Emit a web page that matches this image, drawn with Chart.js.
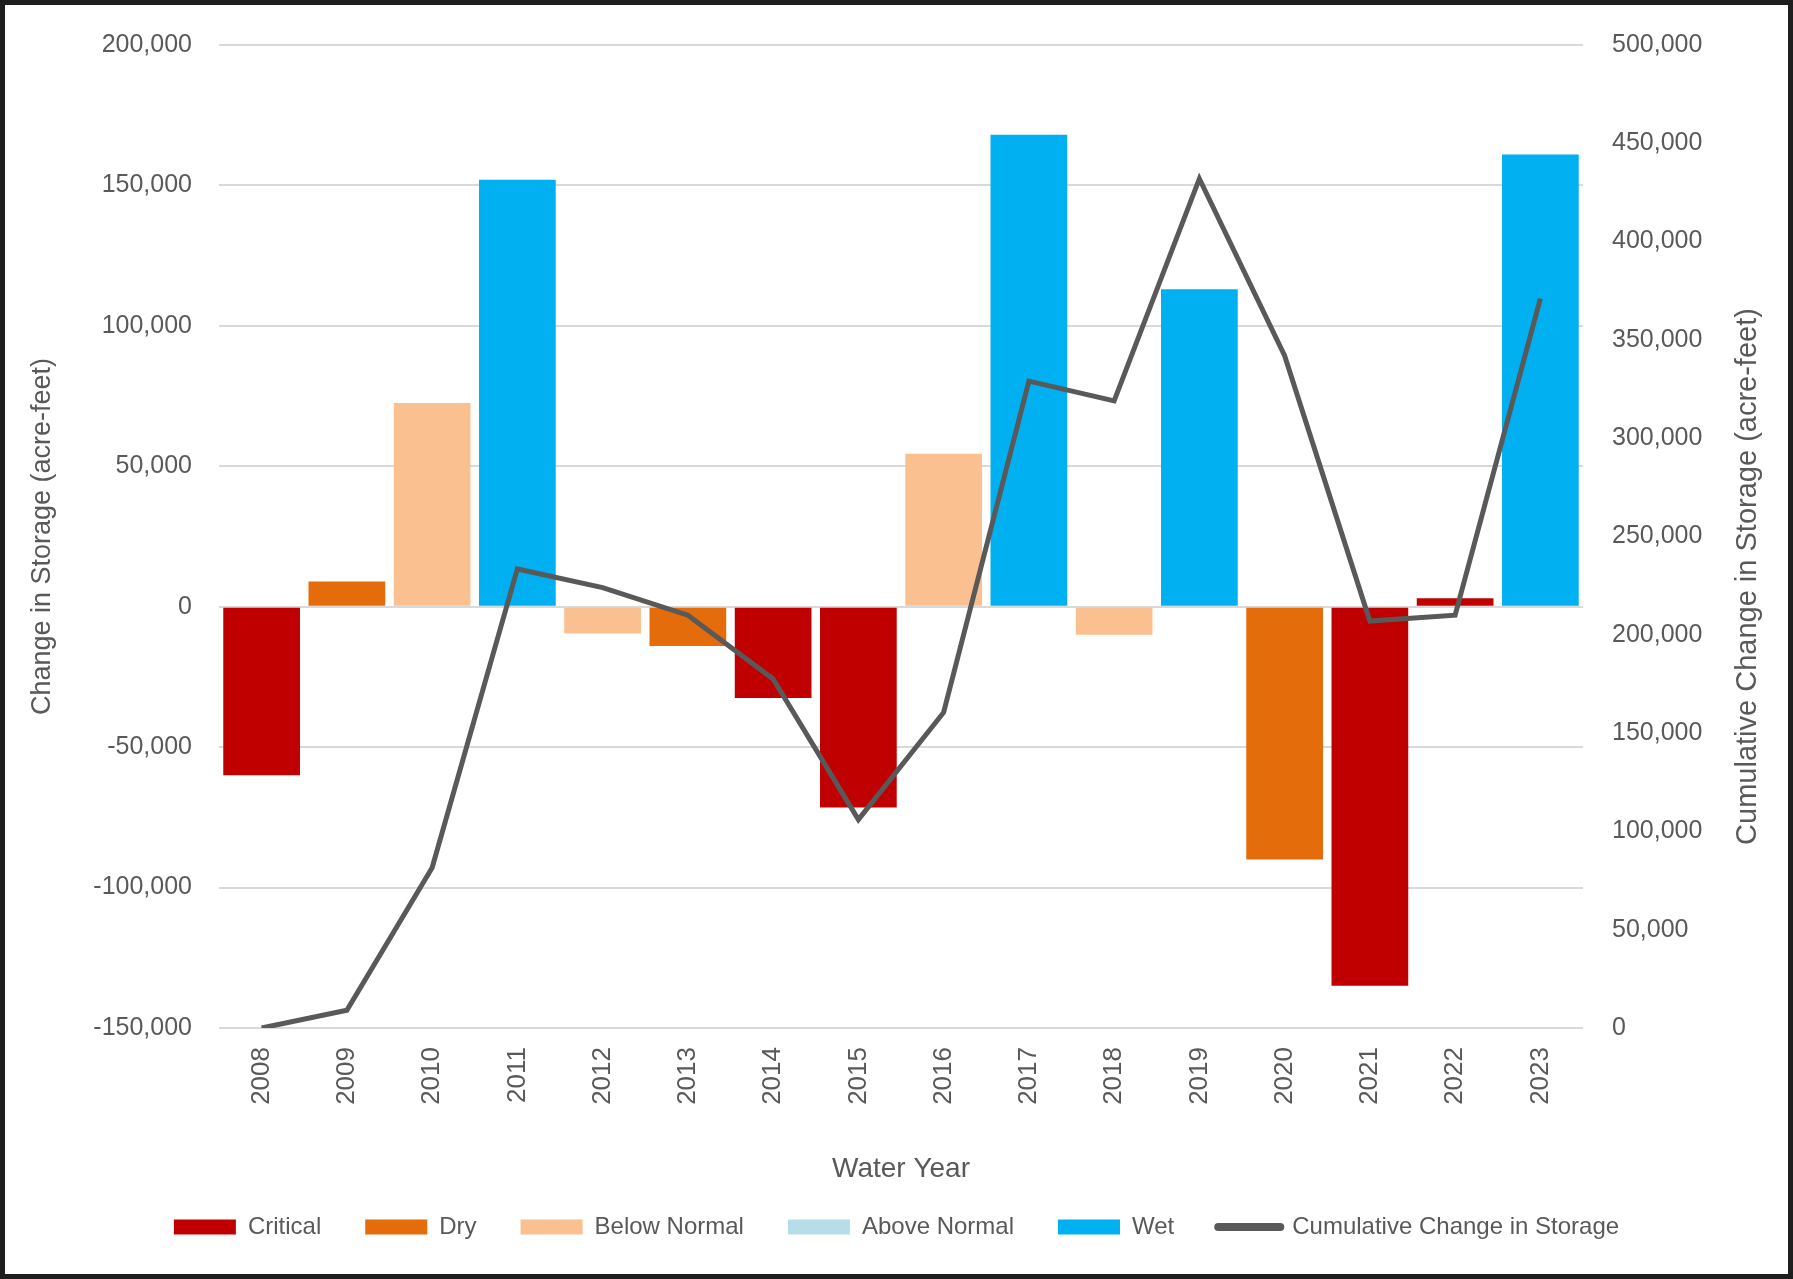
<!DOCTYPE html>
<html>
<head>
<meta charset="utf-8">
<title>Change in Storage by Water Year</title>
<script src="https://cdn.jsdelivr.net/npm/chart.js@4.4.1/dist/chart.umd.min.js"></script>
<style>
  html, body { margin: 0; padding: 0; background: #fff; }
  #wrap { position: relative; width: 1793px; height: 1279px; }
  #frame {
    position: absolute; left: 0; top: 0;
    width: 1793px; height: 1279px;
    box-sizing: border-box;
    border: 5px solid #1e1e1e;
    pointer-events: none;
  }
  canvas { display: block; }
</style>
</head>
<body>
<div id="wrap">
  <canvas id="storageChart" width="1793" height="1279"></canvas>
  <div id="frame"></div>
</div>
<script>
// Data
const years = ['2008', '2009', '2010', '2011', '2012', '2013', '2014', '2015',
               '2016', '2017', '2018', '2019', '2020', '2021', '2022', '2023'];
const yearTypes = ['Critical', 'Dry', 'Below Normal', 'Wet', 'Below Normal', 'Dry', 'Critical', 'Critical',
                   'Below Normal', 'Wet', 'Below Normal', 'Wet', 'Dry', 'Critical', 'Critical', 'Wet'];
const storageChange = [-60000, 9000, 72500, 152000, -9500, -14000, -32500, -71500,
                       54500, 168000, -10000, 113000, -90000, -135000, 3000, 161000];
const cumulativeChange = [0, 9000, 81500, 233500, 224000, 210000, 177500, 106000,
                          160500, 329000, 319000, 432000, 342000, 207000, 210000, 371000];

const typeNames = ['Critical', 'Dry', 'Below Normal', 'Above Normal', 'Wet'];
const typeColors = ['#c00000', '#e46c0a', '#fac090', '#b7dee8', '#00b0f0'];

const textColor = '#595959';
const fontFamily = "'Liberation Sans', Arial, sans-serif";

// Bar datasets: one per water year type, null where the year is another type
const barSets = typeNames.map((name, k) => ({
  type: 'bar',
  label: name,
  data: storageChange.map((v, i) => (yearTypes[i] === name ? v : null)),
  backgroundColor: typeColors[k],
  borderWidth: 0,
  grouped: false,
  barPercentage: 0.9,
  categoryPercentage: 1.0,
  yAxisID: 'y',
  order: 1
}));

const lineSet = {
  type: 'line',
  label: 'Cumulative Change in Storage',
  data: cumulativeChange,
  borderColor: '#595959',
  backgroundColor: '#595959',
  borderWidth: 5,
  pointRadius: 0,
  tension: 0,
  yAxisID: 'y2',
  order: 0
};

// Right axis title reads bottom-to-top, so draw it ourselves
const rightTitle = {
  id: 'rightTitle',
  afterDraw(chart) {
    const scale = chart.scales.y2;
    const ctx = chart.ctx;
    ctx.save();
    ctx.translate(scale.right - 45, (scale.top + scale.bottom) / 2 + 40);
    ctx.rotate(-Math.PI / 2);
    ctx.font = '29px ' + fontFamily;
    ctx.fillStyle = textColor;
    ctx.textAlign = 'center';
    ctx.textBaseline = 'middle';
    ctx.fillText('Cumulative Change in Storage (acre-feet)', 0, 0);
    ctx.restore();
  }
};

const fmt = v => Number(v).toLocaleString('en-US');

new Chart(document.getElementById('storageChart'), {
  data: {
    labels: years,
    datasets: [...barSets, lineSet]
  },
  plugins: [rightTitle],
  options: {
    responsive: false,
    animation: false,
    layout: { padding: { top: 45, right: 0, bottom: 30, left: 0 } },
    plugins: {
      tooltip: { enabled: false },
      legend: {
        position: 'bottom',
        labels: {
          color: textColor,
          font: { family: fontFamily, size: 24 },
          usePointStyle: true,
          pointStyleWidth: 62,
          boxHeight: 15,
          padding: 44,
          sort: (a, b) => a.datasetIndex - b.datasetIndex,
          generateLabels(chart) {
            const items = Chart.defaults.plugins.legend.labels.generateLabels(chart);
            items.forEach(item => {
              const ds = chart.data.datasets[item.datasetIndex];
              if (ds.type === 'line') {
                item.pointStyle = 'line';
                item.lineWidth = 8;
                item.lineCap = 'round';
                item.strokeStyle = ds.borderColor;
              } else {
                item.pointStyle = 'rect';
                item.lineWidth = 0;
                item.fillStyle = ds.backgroundColor;
              }
            });
            return items;
          }
        }
      }
    },
    scales: {
      x: {
        grid: { display: false, drawTicks: false },
        border: { display: false },
        ticks: {
          color: textColor,
          font: { family: fontFamily, size: 26 },
          minRotation: 90,
          maxRotation: 90,
          padding: 19
        },
        title: {
          display: true,
          text: 'Water Year',
          color: textColor,
          font: { family: fontFamily, size: 28 },
          padding: { top: 0, bottom: -15 }
        },
        afterFit(scale) { scale.height = 143; }
      },
      y: {
        position: 'left',
        min: -150000,
        max: 200000,
        grid: { color: '#d9d9d9', lineWidth: 2, drawTicks: false },
        border: { display: false },
        ticks: {
          stepSize: 50000,
          color: textColor,
          font: { family: fontFamily, size: 25 },
          padding: 27,
          callback: fmt
        },
        title: {
          display: true,
          text: 'Change in Storage (acre-feet)',
          color: textColor,
          font: { family: fontFamily, size: 27 },
          padding: { top: 26, bottom: 0 }
        },
        afterFit(scale) { scale.width = 219; }
      },
      y2: {
        position: 'right',
        min: 0,
        max: 500000,
        grid: { display: false, drawTicks: false },
        border: { display: false },
        ticks: {
          stepSize: 50000,
          color: textColor,
          font: { family: fontFamily, size: 25 },
          padding: 29,
          callback: fmt
        },
        afterFit(scale) { scale.width = 210; }
      }
    }
  }
});
</script>
</body>
</html>
